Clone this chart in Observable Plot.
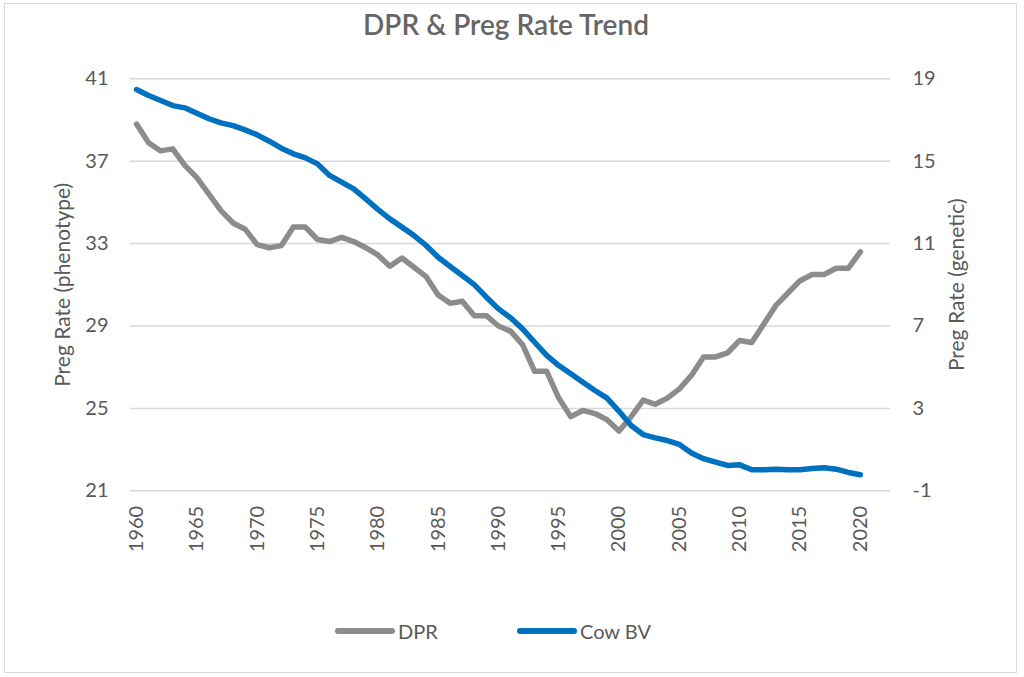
<!DOCTYPE html>
<html><head><meta charset="utf-8">
<script src="https://cdn.jsdelivr.net/npm/d3@7"></script>
<script src="https://cdn.jsdelivr.net/npm/@observablehq/plot@0.6"></script>
<style>
body{margin:0;background:#fff;font-family:Lato, sans-serif;}
#wrap{position:relative;width:1024px;height:677px;overflow:hidden;background:#fff;}
#border{position:absolute;left:4px;top:3px;width:1013px;height:670px;border:1.5px solid #d9d9d9;box-sizing:border-box;}
#title{position:absolute;top:10px;left:0;width:1012px;text-align:center;font-size:28px;line-height:28px;color:#666;font-weight:600;}
#chart{position:absolute;top:50px;left:0;}
.leg{position:absolute;top:619px;height:24px;display:flex;align-items:center;font-size:20px;color:#595959;}
.sw{display:inline-block;width:60px;height:6px;border-radius:3px;margin-right:3px;}
</style></head>
<body>
<div id="wrap">
  <div id="border"></div>
  <div id="title">DPR &amp; Preg Rate Trend</div>
  <div id="chart"></div>
  <div class="leg" style="left:335px"><span class="sw" style="background:#8c8c8c"></span>DPR</div>
  <div class="leg" style="left:517px"><span class="sw" style="background:#0070c0"></span>Cow BV</div>
</div>
<script>
const years = [1960,1961,1962,1963,1964,1965,1966,1967,1968,1969,
  1970,1971,1972,1973,1974,1975,1976,1977,1978,1979,
  1980,1981,1982,1983,1984,1985,1986,1987,1988,1989,
  1990,1991,1992,1993,1994,1995,1996,1997,1998,1999,
  2000,2001,2002,2003,2004,2005,2006,2007,2008,2009,
  2010,2011,2012,2013,2014,2015,2016,2017,2018,2019,2020];
// DPR (phenotype, left axis)
const dpr = [38.8,37.9,37.5,37.6,36.8,36.2,35.4,34.6,34.0,33.7,
  32.95,32.8,32.9,33.8,33.8,33.2,33.1,33.3,33.1,32.8,
  32.45,31.9,32.3,31.85,31.4,30.5,30.1,30.2,29.5,29.5,
  29.0,28.75,28.1,26.8,26.8,25.5,24.6,24.9,24.75,24.45,
  23.9,24.6,25.4,25.2,25.5,25.95,26.6,27.5,27.5,27.7,
  28.3,28.2,29.1,30.0,30.6,31.2,31.5,31.5,31.8,31.8,32.6];
// Cow BV (genetic, right axis)
const cowBV = [18.48,18.19,17.95,17.7,17.59,17.33,17.06,16.86,16.73,16.52,
  16.28,15.97,15.63,15.36,15.16,14.87,14.31,13.98,13.66,13.17,
  12.66,12.2,11.8,11.39,10.91,10.34,9.89,9.45,9.01,8.4,
  7.83,7.4,6.86,6.21,5.57,5.08,4.68,4.27,3.87,3.5,
  2.86,2.17,1.73,1.57,1.44,1.25,0.83,0.56,0.39,0.23,
  0.26,0.02,0.02,0.05,0.02,0.02,0.08,0.12,0.05,-0.11,-0.22];
const leftTicks = [21,25,29,33,37,41];
const rightTicks = [-1,3,7,11,15,19];
const xTicks = [1960,1965,1970,1975,1980,1985,1990,1995,2000,2005,2010,2015,2020];
const rightOffset = leftTicks[0] - rightTicks[0];

const rows = years.map((y, i) => ({year: y, dpr: dpr[i], bv: cowBV[i]}));

const chart = Plot.plot({
  width: 1024, height: 560,
  marginTop: 28.3, marginBottom: 119.7, marginLeft: 130, marginRight: 134,
  x: {domain: [1959.5, 2022.5]},
  y: {domain: [21, 41]},
  style: {fontFamily: "Lato, sans-serif", fontSize: "20px", color: "#595959", background: "transparent", overflow: "visible"},
  marks: [
    Plot.gridY(leftTicks, {stroke: "#d9d9d9", strokeOpacity: 1, strokeWidth: 1.5}),
    Plot.axisY(leftTicks, {anchor: "left", tickSize: 0, tickPadding: 22, label: null, tickFormat: d => String(d)}),
    Plot.axisY(leftTicks, {anchor: "right", tickSize: 0, tickPadding: 22, label: null, tickFormat: d => String(d - rightOffset)}),
    Plot.axisX(xTicks, {anchor: "bottom", tickSize: 0, tickPadding: 15, tickRotate: -90, label: null, tickFormat: d => String(d)}),
    Plot.text(["Preg Rate (phenotype)"], {frameAnchor: "left", dx: -67, rotate: -90, textAnchor: "middle", fill: "#595959", fontSize: 21}),
    Plot.text(["Preg Rate (genetic)"], {frameAnchor: "right", dx: 67, rotate: -90, textAnchor: "middle", fill: "#595959", fontSize: 21}),
    Plot.lineY(rows, {x: "year", y: "dpr", stroke: "#8c8c8c", strokeWidth: 5.5, strokeLinejoin: "round", strokeLinecap: "round"}),
    Plot.lineY(rows, {x: "year", y: d => d.bv + rightOffset, stroke: "#0070c0", strokeWidth: 5.5, strokeLinejoin: "round", strokeLinecap: "round"})
  ]
});
document.getElementById("chart").appendChild(chart);
</script>
</body></html>
